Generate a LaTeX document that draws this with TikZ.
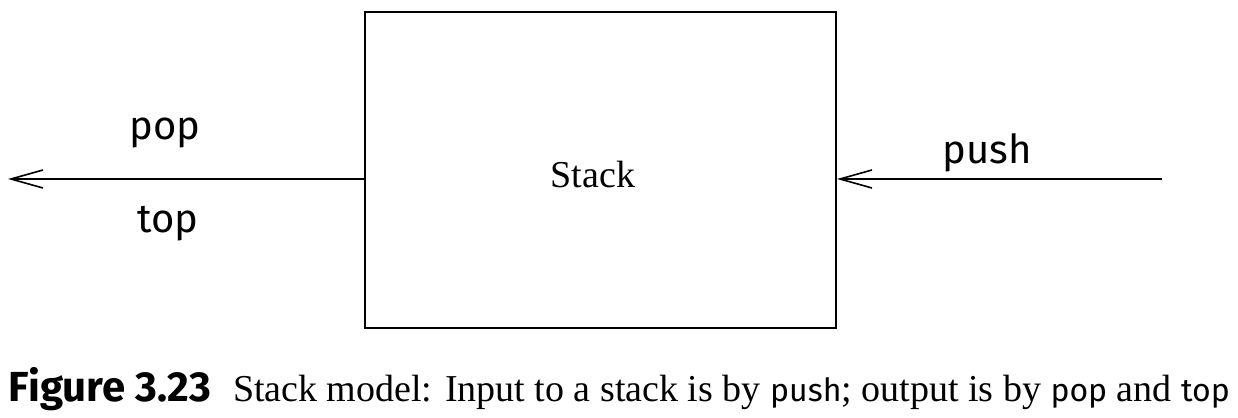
\documentclass[tikz,border=0pt]{standalone}
\usepackage{fontspec}
\setmainfont{Liberation Serif}
\newfontfamily\labelfont{Fira Sans}
\usetikzlibrary{arrows.meta}

\begin{document}
\begin{tikzpicture}[x=0.5pt,y=-0.5pt,
        line width=1pt,
        opentip/.style={-{Straight Barb[length=16pt,width=9pt,line width=0.8pt]}},
        oplabel/.style={anchor=base,font=\labelfont\fontsize{20}{24}\selectfont,inner sep=0pt}]
    \useasboundingbox (0,0) rectangle (1238,418);
    \node[draw,minimum width=235.5pt,minimum height=158pt,inner sep=0pt] (stack) at (600.5,170) {};
    \node[anchor=base,font=\fontsize{19}{23}\selectfont,inner sep=0pt] (stacklabel) at (593,187) {Stack};
    \coordinate (popend) at (8,179);
    \coordinate (pushstart) at (1162,179);
    \draw[opentip] (stack.west |- popend) -- (popend);
    \draw[opentip] (pushstart) -- (stack.east |- pushstart);
    \node[oplabel] (pop) at (165,139) {pop};
    \node[oplabel] (top) at (168,232) {top};
    \node[oplabel] (push) at (987,163) {push};
    % caption
    \node[anchor=base west,inner sep=0pt,font=\labelfont\bfseries\fontsize{21}{25}\selectfont] (fignum) at (8,401) {Figure 3.23};
    \node[anchor=base west,inner sep=0pt,font=\fontsize{19}{23}\selectfont] (caption) at (232,401)
        {Stack model: Input to a stack is by {\labelfont\fontsize{16}{19}\selectfont push}; output is by {\labelfont\fontsize{16}{19}\selectfont pop} and {\labelfont\fontsize{16}{19}\selectfont top}};
\end{tikzpicture}
\end{document}
